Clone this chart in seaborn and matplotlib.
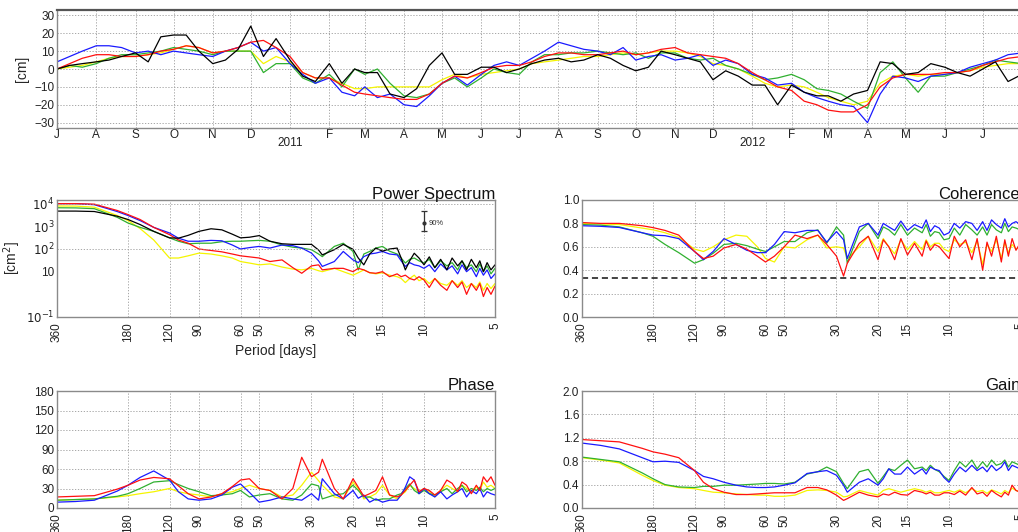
import matplotlib.pyplot as plt
import matplotlib.dates as mdates
import matplotlib.ticker as mticker
import numpy as np
import pandas as pd
import seaborn as sns

# ---- time series (sea level, cm), sampled on the 1st, 11th and 21st of each month
black_cm = [0, 2, 3, 4, 5, 7, 9, 4, 18, 19, 19, 10, 3, 5, 11, 24, 7, 17,
            5, -4, -7, 3, -8, 0, -2, -2, -14, -16, -11, 2, 9, -3, -3, 1, 1, -2,
            0, 3, 5, 6, 4, 5, 8, 6, 2, -1, 1, 10, 8, 6, 4, -6, -1, -4,
            -9, -9, -20, -9, -13, -15, -15, -18, -14, -12, 4, 3, -3, -2, 3, 1, -2, -4,
            0, 4, -7, -3]
red_cm = [0, 3, 6, 8, 8, 7, 7, 8, 10, 11, 13, 12, 9, 10, 12, 15, 16, 12,
          7, -2, -5, -5, -9, -13, -14, -15, -16, -17, -17, -14, -8, -4, -5, -2, 1, 2,
          2, 4, 7, 9, 9, 8, 8, 9, 10, 8, 9, 11, 12, 9, 8, 7, 6, 3,
          -2, -6, -10, -12, -18, -20, -23, -24, -24, -20, -10, -5, -3, -3, -3, -2, -2, -1,
          2, 4, 6, 7]
blue_cm = [4, 7, 10, 13, 13, 12, 9, 10, 8, 10, 9, 8, 7, 10, 12, 15, 10, 12,
           3, -3, -8, -5, -13, -15, -10, -16, -14, -20, -21, -15, -8, -4, -9, -3, 2, 4,
           2, 6, 10, 15, 13, 11, 10, 8, 12, 5, 7, 8, 5, 6, 8, 2, 5, 3,
           -3, -5, -9, -8, -13, -16, -18, -20, -21, -30, -14, -4, -5, -7, -4, -3, -2, 1,
           3, 5, 8, 9]
green_cm = [0, 2, 1, 3, 6, 8, 8, 9, 10, 12, 11, 10, 8, 10, 10, 10, -2, 3,
            3, -5, -8, -3, -10, 0, -3, 0, -8, -15, -16, -14, -8, -5, -10, -5, 0, -2,
            -3, 4, 8, 8, 9, 9, 10, 9, 8, 9, 6, 9, 9, 6, 5, 6, 2, 0,
            -3, -6, -5, -3, -6, -11, -12, -14, -18, -22, -2, 4, -5, -13, -4, -4, -2, 0,
            2, 5, 4, 3]
yellow_cm = [0, 1, 2, 4, 6, 7, 7, 8, 9, 11, 13, 12, 9, 10, 10, 10, 3, 7,
             4, -2, -5, -5, -8, -11, -11, -10, -10, -10, -10, -10, -6, -3, -5, -3, -2, -1,
             0, 3, 4, 5, 6, 7, 7, 8, 9, 8, 9, 10, 10, 9, 7, 3, 2, 0,
             -4, -8, -10, -9, -10, -13, -16, -18, -20, -18, -8, -4, -3, -4, -3, -3, -2, -1,
             1, 2, 3, 3]

# ---- spectra, on a common period axis (days)
periods = [360, 300, 250, 200, 180, 160, 140, 120, 110, 100, 90, 80, 72, 65, 60,
           55, 50, 45, 40, 36, 33, 30, 28, 27, 24, 22, 20, 19, 18, 17, 16, 15, 14, 13,
           12.5, 12, 11.5, 11, 10.5, 10, 9.5, 9, 8.5, 8, 7.6, 7.2, 6.9, 6.6, 6.3, 6,
           5.8, 5.6, 5.4, 5.2, 5]
period_ticks = [360, 180, 120, 90, 60, 50, 30, 20, 15, 10, 5]

psd_black = [4700, 4700, 4500, 2800, 2000, 1200, 600, 310, 300, 400, 600, 780, 700, 450, 310,
             330, 390, 220, 170, 160, 160, 160, 90, 55, 93, 160, 97, 40, 20, 60, 110, 80, 100, 110,
             40, 12, 30, 65, 40, 20, 45, 15, 35, 12, 40, 18, 30, 12, 35, 15, 30, 10, 25, 12, 20]
psd_red = [10000, 10000, 9500, 5000, 3300, 2000, 900, 430, 250, 180, 100, 86, 75, 60, 50,
           45, 40, 28, 33, 15, 8.5, 18, 20, 12, 14, 14, 10, 14, 12, 9, 8.5, 10, 6, 8,
           6, 7, 5, 4.3, 6, 4.3, 2, 5, 2.5, 1.5, 4, 2, 3.5, 1, 3, 1.5, 3, 0.8, 2, 1, 2.3]
psd_blue = [10000, 10000, 9000, 4500, 3000, 1800, 900, 510, 300, 220, 220, 240, 230, 150, 100,
            115, 130, 110, 150, 140, 110, 66, 30, 17, 28, 78, 33, 25, 46, 60, 66, 78, 60, 55,
            30, 17, 25, 20, 18, 14, 20, 10, 22, 12, 18, 8, 20, 10, 15, 6, 14, 7, 12, 5, 8]
psd_green = [6600, 6500, 6000, 2500, 1400, 900, 600, 310, 220, 170, 180, 180, 210, 220, 220,
             230, 240, 220, 150, 120, 110, 93, 60, 46, 130, 180, 78, 12, 60, 78, 110, 130, 80, 60,
             40, 24, 35, 40, 30, 24, 35, 15, 30, 18, 25, 12, 30, 15, 20, 10, 22, 10, 18, 8, 14]
psd_yellow = [7900, 7800, 7000, 3000, 1800, 800, 250, 40, 40, 50, 66, 60, 50, 40, 28,
              24, 20, 22, 16, 13, 12, 14, 11, 10, 14, 10, 7, 9, 12, 9, 8, 9, 7, 6,
              5, 3.3, 5, 7, 4, 5, 3, 5, 3, 2.5, 4, 2.5, 4, 2, 3, 2, 3.5, 1.5, 3, 1.8, 3]

coh_red = [.807, .80, .80, .78, .764, .74, .70, .56, .50, .52, .59, .62, .58, .52, .47,
           .52, .60, .70, .67, .70, .62, .52, .35, .46, .63, .69, .49, .66, .60, .49, .67, .53, .63, .52,
           .65, .57, .62, .60, .55, .50, .69, .60, .66, .49, .67, .40, .64, .52, .69, .47, .66, .52, .67, .57, .63]
coh_blue = [.78, .775, .765, .72, .70, .695, .67, .56, .49, .56, .67, .62, .57, .55, .55,
            .62, .73, .72, .74, .74, .64, .73, .66, .50, .77, .80, .70, .80, .77, .74, .82, .74, .79, .76,
            .83, .73, .78, .76, .70, .72, .80, .76, .815, .80, .74, .815, .74, .83, .79, .76, .84, .77, .80, .815, .79]
coh_green = [.79, .785, .77, .72, .69, .62, .55, .46, .49, .545, .62, .63, .61, .58, .56,
             .60, .645, .645, .72, .745, .63, .77, .70, .46, .73, .80, .67, .77, .745, .70, .79, .70, .76, .72,
             .79, .69, .73, .72, .66, .67, .76, .70, .79, .745, .70, .77, .70, .79, .745, .72, .80, .73, .77, .76, .745]
coh_yellow = [.80, .795, .79, .76, .745, .72, .68, .58, .56, .60, .66, .70, .69, .60, .50,
              .47, .60, .59, .66, .70, .59, .60, .59, .50, .60, .69, .56, .67, .60, .54, .66, .575, .645, .575,
              .66, .60, .63, .63, .58, .56, .66, .62, .64, .55, .65, .45, .62, .56, .66, .50, .64, .55, .62, .58, .60]
coh_sig = 0.335

phase_red = [17, 18, 19, 29, 35, 43, 47, 45, 34, 22, 14, 17, 22, 33, 43,
             45, 30, 27, 14, 30, 78, 48, 55, 75, 30, 14, 45, 32, 18, 22, 27, 48, 20, 17,
             20, 27, 35, 43, 25, 30, 27, 20, 27, 43, 38, 25, 40, 35, 22, 35, 27, 48, 40, 48, 35]
phase_blue = [9, 10, 12, 26, 35, 47, 57, 43, 25, 14, 12, 14, 20, 32, 37,
              24, 9, 12, 17, 14, 12, 22, 12, 45, 22, 14, 27, 15, 20, 9, 14, 9, 12, 12,
              20, 32, 48, 43, 22, 30, 22, 17, 25, 14, 20, 25, 30, 17, 27, 22, 30, 17, 25, 22, 20]
phase_green = [12, 13, 14, 18, 22, 30, 40, 42, 36, 30, 25, 19, 20, 22, 27,
               17, 20, 22, 14, 12, 20, 37, 34, 14, 20, 22, 35, 27, 17, 17, 12, 14, 14, 20,
               22, 30, 37, 27, 22, 27, 22, 20, 25, 30, 22, 30, 35, 25, 30, 27, 32, 25, 30, 27, 30]
phase_yellow = [12, 13, 14, 17, 19, 22, 25, 30, 25, 22, 20, 17, 22, 25, 30,
                35, 30, 27, 17, 20, 35, 55, 42, 35, 17, 14, 40, 30, 14, 17, 22, 35, 20, 14,
                20, 25, 35, 30, 25, 30, 25, 17, 27, 35, 30, 25, 35, 30, 25, 32, 27, 40, 32, 35, 30]

gain_red = [1.17, 1.15, 1.13, 1.02, .96, .92, .86, .64, .44, .33, .27, .23, .23, .24, .25,
            .26, .26, .26, .35, .35, .31, .22, .13, .16, .27, .22, .19, .24, .22, .27, .23, .22, .30, .27,
            .24, .27, .22, .22, .26, .26, .23, .29, .22, .35, .24, .27, .20, .30, .24, .19, .27, .22, .39, .30, .27]
gain_blue = [1.11, 1.07, 1.01, .86, .79, .80, .78, .64, .54, .50, .44, .39, .36, .35, .35,
             .36, .39, .43, .59, .62, .64, .56, .39, .27, .44, .50, .39, .50, .67, .58, .58, .70, .58, .67,
             .58, .70, .66, .64, .52, .44, .58, .70, .62, .73, .64, .70, .62, .73, .64, .70, .79, .64, .73, .70, .67]
gain_green = [.87, .83, .79, .60, .50, .40, .36, .35, .37, .37, .39, .39, .40, .41, .42,
              .42, .41, .44, .58, .62, .70, .62, .42, .33, .62, .66, .42, .54, .67, .64, .73, .82, .67, .70,
              .64, .73, .66, .62, .54, .47, .64, .79, .70, .82, .67, .79, .70, .82, .73, .76, .82, .70, .79, .76, .73]
gain_yellow = [.86, .82, .77, .56, .47, .39, .35, .33, .30, .27, .26, .24, .23, .22, .22,
               .20, .20, .22, .30, .31, .30, .27, .19, .20, .30, .26, .22, .30, .33, .30, .27, .30, .33, .30,
               .27, .30, .26, .26, .28, .30, .27, .31, .26, .33, .28, .30, .25, .31, .28, .24, .30, .26, .34, .30, .28]

# 90% confidence bar on the power spectrum
ci_period, ci_mid, ci_low, ci_high = 10, 1400, 600, 4700

order = ['yellow', 'green', 'blue', 'red', 'black']
pal = {'black': '#000000', 'red': '#ff1010', 'blue': '#1a1aff',
       'green': '#30b030', 'yellow': '#f5f500'}

dates = [pd.Timestamp(f'{m}-{d:02d}') for m in pd.period_range('2010-07', '2012-07', freq='M').strftime('%Y-%m')
         for d in (1, 11, 21)] + [pd.Timestamp('2012-08-01')]
ts = pd.concat([pd.DataFrame({'date': dates, 'cm': v, 'series': k}) for k, v in
                [('black', black_cm), ('red', red_cm), ('blue', blue_cm),
                 ('green', green_cm), ('yellow', yellow_cm)]])


def spec_df(d):
    return pd.concat([pd.DataFrame({'period': periods, 'val': v, 'series': k}) for k, v in d.items()])


psd = spec_df({'black': psd_black, 'red': psd_red, 'blue': psd_blue, 'green': psd_green, 'yellow': psd_yellow})
coh = spec_df({'red': coh_red, 'blue': coh_blue, 'green': coh_green, 'yellow': coh_yellow})
pha = spec_df({'red': phase_red, 'blue': phase_blue, 'green': phase_green, 'yellow': phase_yellow})
gai = spec_df({'red': gain_red, 'blue': gain_blue, 'green': gain_green, 'yellow': gain_yellow})

sns.set_theme(style='white')
plt.rcParams['font.family'] = ['Liberation Sans', 'DejaVu Sans']

W, H = 1018, 532
fig = plt.figure(figsize=(W / 100, H / 100), dpi=100)

grid_kw = dict(ls=(0, (1.5, 2)), color='#999999', lw=0.6)


def frame(ax):
    for s in ax.spines.values():
        s.set_color('#8a8a8a')
        s.set_linewidth(1.0)
    ax.tick_params(length=0, labelsize=8.5, pad=2, colors='#222222')
    ax.grid(True, **grid_kw)


# ---- top: time series
ax0 = fig.add_axes([57 / W, 1 - 128 / H, 965 / W, 118 / H])
sns.lineplot(data=ts, x='date', y='cm', hue='series', hue_order=order, palette=pal,
             legend=False, lw=0.9, ax=ax0)
ax0.set_xlim(pd.Timestamp('2010-07-01'), pd.Timestamp('2012-08-01'))
ax0.set_ylim(-33, 33)
ax0.set_yticks([-30, -20, -10, 0, 10, 20, 30])
ax0.set_xlabel('')
ax0.set_ylabel('[cm]', fontsize=10, labelpad=4)
frame(ax0)
ax0.spines['top'].set_color('#555555')
ax0.spines['top'].set_linewidth(1.6)
ax0.xaxis.set_major_locator(mdates.MonthLocator())
ax0.xaxis.set_major_formatter(mticker.FuncFormatter(
    lambda v, p: '' if mdates.num2date(v).month == 1 else mdates.num2date(v).strftime('%b')[0]))
ax0.xaxis.set_minor_locator(mdates.MonthLocator(bymonth=1))
ax0.tick_params(axis='x', which='minor', length=4, width=0.8, direction='out', color='#555555')
ax0.tick_params(axis='x', which='major', pad=1)
for yr in (2011, 2012):
    ax0.text(pd.Timestamp(f'{yr}-01-01'), -0.13, str(yr), transform=ax0.get_xaxis_transform(),
             ha='center', va='center', fontsize=8.5, color='#222222')


def spectral(ax, df, title, hue_order):
    sns.lineplot(data=df, x='period', y='val', hue='series', hue_order=hue_order, palette=pal,
                 legend=False, lw=0.9, ax=ax, sort=False)
    ax.set_xscale('log')
    ax.set_xlim(360, 5)
    ax.xaxis.set_major_locator(mticker.FixedLocator(period_ticks))
    ax.xaxis.set_major_formatter(mticker.FixedFormatter([str(t) for t in period_ticks]))
    ax.xaxis.set_minor_locator(mticker.NullLocator())
    frame(ax)
    ax.tick_params(axis='x', labelrotation=90, pad=4)
    ax.set_xlabel('')
    ax.set_ylabel('')
    ax.set_title(title, loc='right', fontsize=12, pad=1, color='#111111')


# ---- power spectrum
ax1 = fig.add_axes([57 / W, 1 - 317 / H, 438 / W, 117 / H])
spectral(ax1, psd, 'Power Spectrum', order)
ax1.set_yscale('log')
ax1.set_ylim(0.1, 1.45e4)
ax1.yaxis.set_major_locator(mticker.FixedLocator([0.1, 10, 100, 1000, 10000]))
ax1.yaxis.set_major_formatter(mticker.FixedFormatter(['$10^{-1}$', '10', '$10^2$', '$10^3$', '$10^4$']))
ax1.yaxis.set_minor_locator(mticker.NullLocator())
ax1.yaxis.grid(False)
for g in (1e2, 1e4):
    ax1.axhline(g, **grid_kw)
ax1.set_ylabel('[cm$^2$]', fontsize=10, labelpad=2)
ax1.set_xlabel('Period [days]', fontsize=10, labelpad=1)
ax1.errorbar([ci_period], [ci_mid], yerr=[[ci_mid - ci_low], [ci_high - ci_mid]], fmt='o', ms=2,
             color='#333333', capsize=2, elinewidth=0.9, capthick=0.9)
ax1.text(9.6, ci_mid, '90%', fontsize=5.5, va='center', ha='left', color='#333333')

# ---- coherence
ax2 = fig.add_axes([582 / W, 1 - 317 / H, 438 / W, 117 / H])
spectral(ax2, coh, 'Coherence', order[:4])
ax2.set_ylim(0, 1.0)
ax2.set_yticks(np.arange(0, 1.01, 0.2))
ax2.yaxis.set_major_formatter(mticker.FormatStrFormatter('%.1f'))
ax2.axhline(coh_sig, color='#111111', ls=(0, (4, 2.5)), lw=1.1)

# ---- phase
ax3 = fig.add_axes([57 / W, 1 - 508 / H, 438 / W, 117 / H])
spectral(ax3, pha, 'Phase', order[:4])
ax3.set_ylim(0, 180)
ax3.set_yticks(np.arange(0, 181, 30))

# ---- gain
ax4 = fig.add_axes([582 / W, 1 - 508 / H, 438 / W, 117 / H])
spectral(ax4, gai, 'Gain', order[:4])
ax4.set_ylim(0, 2.0)
ax4.set_yticks(np.arange(0, 2.01, 0.4))
ax4.yaxis.set_major_formatter(mticker.FormatStrFormatter('%.1f'))

fig.savefig('out.png', dpi=100)
